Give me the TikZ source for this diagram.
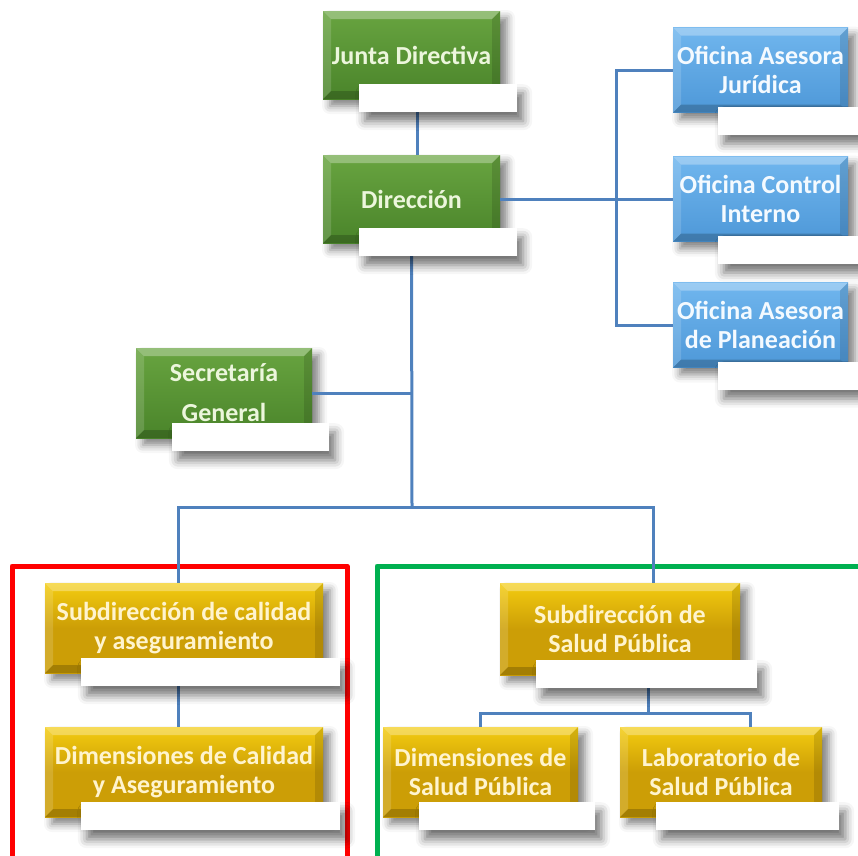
\documentclass[tikz,border=0pt]{standalone}
\usepackage{fontspec}
\setmainfont{Carlito}
\usepackage{tikz}
\usetikzlibrary{calc, shadows.blur}

\definecolor{unitgreen}{RGB}{74,132,42}
\definecolor{unitgreenlight}{RGB}{104,164,64}
\definecolor{unitblue}{RGB}{78,152,216}
\definecolor{unitbluelight}{RGB}{112,182,238}
\definecolor{unitgold}{RGB}{204,158,6}
\definecolor{unitgoldlight}{RGB}{244,204,16}
\definecolor{greentext}{RGB}{236,246,220}
\definecolor{goldtext}{RGB}{255,244,206}
\definecolor{bluetext}{RGB}{244,250,255}
\definecolor{linkblue}{RGB}{79,129,189}
\definecolor{framered}{RGB}{255,0,0}
\definecolor{framegreen}{RGB}{0,176,80}

\tikzset{
	unit/.style={rectangle, inner sep=0pt, minimum height=88pt, align=center,
		font=\fontsize{26}{29}\selectfont\bfseries,
		blur shadow={shadow xshift=7pt, shadow yshift=-7pt, shadow blur radius=8pt, shadow opacity=50},
		path picture={
			\coordinate (pp nw) at (path picture bounding box.north west);
			\coordinate (pp ne) at (path picture bounding box.north east);
			\coordinate (pp sw) at (path picture bounding box.south west);
			\coordinate (pp se) at (path picture bounding box.south east);
			\fill [white, opacity=0.3] (pp nw) -- (pp ne) -- ($ (pp ne) + (-8pt,-8pt) $) -- ($ (pp nw) + (8pt,-8pt) $) -- cycle;
			\fill [white, opacity=0.15] (pp nw) -- ($ (pp nw) + (8pt,-8pt) $) -- ($ (pp sw) + (8pt,8pt) $) -- (pp sw) -- cycle;
			\fill [black, opacity=0.12] (pp ne) -- ($ (pp ne) + (-8pt,-8pt) $) -- ($ (pp se) + (-8pt,8pt) $) -- (pp se) -- cycle;
			\fill [black, opacity=0.2] (pp sw) -- ($ (pp sw) + (8pt,8pt) $) -- ($ (pp se) + (-8pt,8pt) $) -- (pp se) -- cycle;
		}},
	green unit/.style={unit, minimum width=177pt, top color=unitgreenlight, bottom color=unitgreen, text=greentext},
	blue unit/.style={unit, minimum width=175pt, minimum height=85pt, top color=unitbluelight, bottom color=unitblue, text=bluetext},
	gold unit/.style={unit, minimum height=90pt, top color=unitgoldlight, bottom color=unitgold, middle color=unitgold, text=goldtext},
	tab/.style={fill=white, blur shadow={shadow xshift=6pt, shadow yshift=-9pt, shadow blur radius=9pt, shadow opacity=55}},
	link/.style={draw=linkblue, line width=3pt},
	frame/.style={line width=5pt, line join=round}
}

\begin{document}
\begin{tikzpicture}[x=1pt, y=1pt]
	\useasboundingbox (0,0) rectangle (858,-855);

	% area frames
	\draw [frame, framered] (12,-566) rectangle (347,-880);
	\draw [frame, framegreen] (377,-566) rectangle (880,-880);

	% units
	\node [green unit] (junta) at (411.5,-55) {Junta Directiva};
	\node [green unit] (direccion) at (411.5,-199) {Dirección};
	\node [green unit, minimum width=176pt, minimum height=90pt] (secretaria) at (224,-393) {Secretaría\\[11pt]General};

	\node [blue unit] (juridica) at (760.5,-70) {Oficina Asesora\\Jurídica};
	\node [blue unit] (control) at (760.5,-199) {Oficina Control\\Interno};
	\node [blue unit] (planeacion) at (760.5,-325) {Oficina Asesora\\de Planeación};

	\node [gold unit, minimum width=278pt] (subcalidad) at (184,-628) {Subdirección de calidad\\y aseguramiento};
	\node [gold unit, minimum width=278pt] (dimcalidad) at (184,-772) {Dimensiones de Calidad\\y Aseguramiento};
	\node [gold unit, minimum width=240pt, minimum height=92pt] (subsalud) at (620,-629) {Subdirección de\\Salud Pública};
	\node [gold unit, minimum width=195pt] (dimsalud) at (480.5,-772) {Dimensiones de\\Salud Pública};
	\node [gold unit, minimum width=202pt] (laboratorio) at (721,-772) {Laboratorio de\\Salud Pública};

	\coordinate (hub) at (412,-507);
	\coordinate (split) at ($ (subsalud.south) + (28pt,-38pt) $);

	% connectors, from edge to edge
	\draw [link] ([xshift=6pt]junta.south) -- ([xshift=6pt]direccion.north);
	\draw [link] (direccion.east) -- (control.west);
	\draw [link] (juridica.west) -- ++(-56pt,0) |- (planeacion.west);
	\draw [link] (direccion.south) -- (hub);
	\draw [link] (secretaria.east) -- (secretaria.east -| hub);
	\draw [link] ([xshift=-6pt]subcalidad.north) |- (hub) -| ([xshift=33pt]subsalud.north);
	\draw [link] ([xshift=-6pt]subcalidad.south) -- ([xshift=-6pt]dimcalidad.north);
	\draw [link] ([xshift=28pt]subsalud.south) -- (split);
	\draw [link] (dimsalud.north) |- (split) -| ([xshift=29pt]laboratorio.north);

	% white tabs
	\foreach \u in {junta, direccion, secretaria, subcalidad, dimcalidad, subsalud, dimsalud, laboratorio}
	{
		\fill [tab] ($ (\u.south west) + (36pt,15pt) $) rectangle ($ (\u.south east) + (17pt,-13pt) $);
	}
	\foreach \u in {juridica, control, planeacion}
	{
		\fill [tab] ($ (\u.south west) + (45pt,6pt) $) rectangle ($ (\u.south east) + (17pt,-22pt) $);
	}
\end{tikzpicture}
\end{document}
